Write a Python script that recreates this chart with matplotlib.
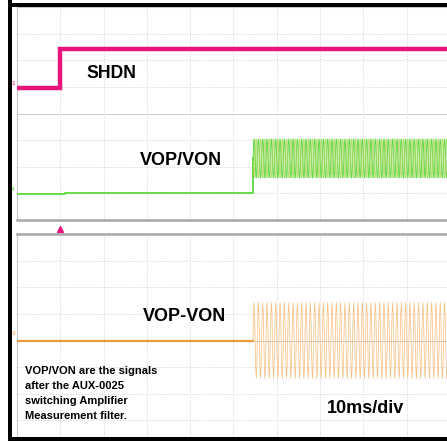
import numpy as np
import matplotlib
matplotlib.use("Agg")
import matplotlib.pyplot as plt
from matplotlib.patches import Rectangle

plt.rcParams['font.family'] = ['Liberation Sans', 'DejaVu Sans']

# --- scope settings (10 ms/div, 8 vertical divisions per window) -----------
time_per_div_ms = 10
n_xdiv = 10
n_ydiv = 8

# SHDN, channel 1 (levels in divisions)
shdn_t = [0.0, 10.0, 10.0, 100.0]
shdn_v = [0.94, 0.94, 2.44, 2.44]

# VOP/VON, channel 4: idle level then filtered 1 kHz burst
vop_idle_t = [0.0, 11.0, 11.0, 54.5]
vop_idle_v = [-3.04, -3.04, -3.0, -3.0]
vop_burst_center = -1.69
vop_burst_amp = 0.73

# VOP-VON, channel 3
diff_idle_t = [0.0, 54.5]
diff_idle_v = [0.0, 0.0]
diff_burst_amp = 1.43

burst_start_ms = 54.5
burst_end_ms = 100.0
tone_period_ms = 1.0
tone_cycle = [0.0, 0.71, 1.0, 0.71, 0.0, -0.71, -1.0, -0.71]

note_text = ("VOP/VON are the signals\nafter the AUX-0025\n"
             "switching Amplifier\nMeasurement filter.")

MAGENTA = "#e8147c"
GREEN = "#5cd83a"
ORANGE = "#ec9a3a"
ORANGE_L = "#f7bd7a"

W, H = 447, 441


def px_axes(x0, y_top, w, h):
    return [x0 / W, 1 - (y_top + h) / H, w / W, h / H]


def scope_grid(ax):
    ax.set_xlim(0, n_xdiv * time_per_div_ms)
    ax.set_ylim(-n_ydiv / 2, n_ydiv / 2)
    ax.set_xticks(np.arange(0, n_xdiv * time_per_div_ms + 1, time_per_div_ms))
    ax.set_yticks(np.arange(-n_ydiv / 2, n_ydiv / 2 + 1, 1))
    ax.tick_params(length=0, labelbottom=False, labelleft=False)
    ax.grid(True, color="#dcdcdc", lw=0.6, ls=(0, (2, 1.5)))
    ax.axhline(0, color="#bdbdbd", lw=0.7, zorder=1)
    for s in ax.spines.values():
        s.set_color("#c8c8c8")
        s.set_linewidth(0.8)
    ax.spines["right"].set_visible(False)


fig = plt.figure(figsize=(W / 100, H / 100), dpi=100)
ax1 = fig.add_axes(px_axes(17, 7, 433, 213))
ax2 = fig.add_axes(px_axes(17, 234, 433, 213))
for ax in (ax1, ax2):
    scope_grid(ax)
ax1.spines["bottom"].set_color("#a8a8a8")
ax1.spines["bottom"].set_linewidth(1.8)
ax2.spines["top"].set_color("#a8a8a8")
ax2.spines["top"].set_linewidth(1.8)

# burst samples: the tone cycle repeated over the burst
n_cycles = int((burst_end_ms - burst_start_ms) / tone_period_ms) + 1
cyc = np.array(tone_cycle)
tb = burst_start_ms + np.arange(n_cycles * len(cyc)) * tone_period_ms / len(cyc)
shape = np.tile(cyc, n_cycles)

# --- top window: SHDN + VOP/VON ---------------------------------------------
ax1.plot(shdn_t, shdn_v, color=MAGENTA, lw=3.2, solid_joinstyle="miter", zorder=3)
ax1.plot(vop_idle_t + [burst_start_ms], vop_idle_v + [vop_burst_center],
         color=GREEN, lw=1.3, zorder=3)
ax1.fill_between(tb, vop_burst_center - vop_burst_amp, vop_burst_center + vop_burst_amp,
                 color="#c8f2b8", lw=0, zorder=2)
ax1.plot(tb, vop_burst_center + vop_burst_amp * shape, color=GREEN, lw=0.6, zorder=3)
ax1.plot(tb, vop_burst_center - vop_burst_amp * shape, color="#b9cf55", lw=0.5,
         alpha=0.8, zorder=3)

ax1.text(21.9, 1.5, "SHDN", fontsize=12.7, fontweight="bold", ha="center", va="center")
ax1.text(37.9, -1.77, "VOP/VON", fontsize=13, fontweight="bold", ha="center", va="center")
ax1.text(-0.9, shdn_v[0] + 0.2, "1", fontsize=4.5, color=MAGENTA, ha="center",
         va="center", clip_on=False)
ax1.text(-0.9, vop_idle_v[0] + 0.2, "4", fontsize=4.5, color=GREEN, ha="center",
         va="center", clip_on=False)
ax1.plot(shdn_t[1], -4.32, marker="^", color=MAGENTA, ms=4.5, clip_on=False, zorder=5)

# --- bottom window: VOP-VON -------------------------------------------------
ax2.plot(diff_idle_t, diff_idle_v, color=ORANGE, lw=1.6, zorder=3)
ax2.plot(tb, diff_burst_amp * shape, color=ORANGE_L, lw=0.5, zorder=3)
ax2.text(38.6, 0.92, "VOP-VON", fontsize=13, fontweight="bold", ha="center", va="center")
ax2.text(80.6, -2.54, "10ms/div", fontsize=13, fontweight="bold", ha="center", va="center")
ax2.text(1.85, -0.95, note_text, fontsize=8, fontweight="bold", ha="left", va="top",
         linespacing=1.63)
ax2.text(-0.9, 0.25, "3", fontsize=4.5, color=ORANGE, ha="center", va="center",
         clip_on=False)

# --- black screen frame -----------------------------------------------------
for x, y, w, h in [(8, 0, 4, H), (8, 3, W, 4), (8, 437, W, 4)]:
    fig.add_artist(Rectangle((x / W, 1 - (y + h) / H), w / W, h / H,
                             transform=fig.transFigure, color="black", lw=0, zorder=10))

fig.savefig("out.png", dpi=100)
